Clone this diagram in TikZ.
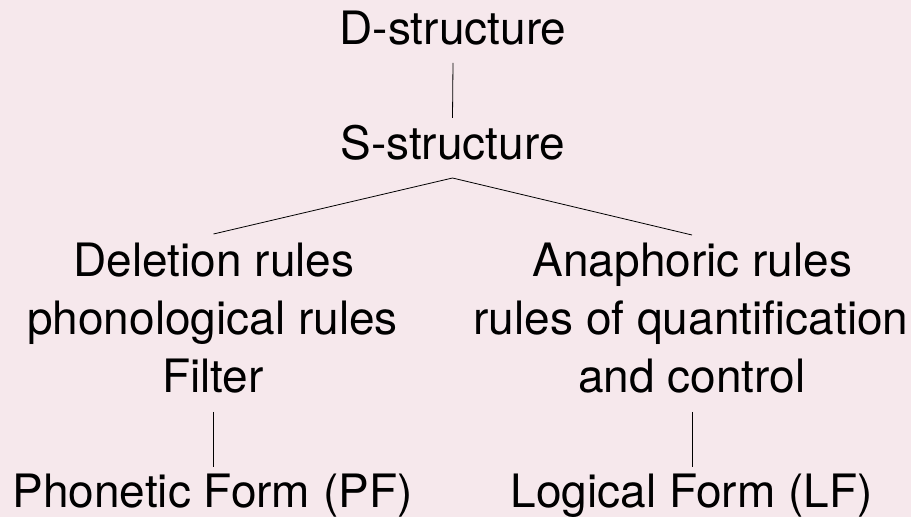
\documentclass[tikz,border=0pt]{standalone}
\usepackage{fontspec}
\setmainfont{TeX Gyre Heros}
\definecolor{paper}{RGB}{246,232,236}
\begin{document}
\begin{tikzpicture}[x=1pt,y=1pt,
  lbl/.style={anchor=base,inner sep=0pt,font=\fontsize{46}{55}\selectfont},
  link/.style={draw=black,line width=0.8pt}]
  % page
  \fill[paper] (0,0) rectangle (911,517);
  \useasboundingbox (0,0) rectangle (911,517);

  % levels of representation
  \node[lbl] (d) at (453,472) {D-structure};
  \node[lbl] (s) at (452.5,357) {S-structure};

  % left branch
  \node[lbl] (del)  at (214,240) {Deletion rules};
  \node[lbl] (phon) at (212.5,182) {phonological rules};
  \node[lbl] (filt) at (213,124) {Filter};
  \node[lbl] (pf)   at (212.5,9) {Phonetic Form (PF)};

  % right branch
  \node[lbl] (ana)  at (692.5,240) {Anaphoric rules};
  \node[lbl] (quan) at (691,182) {rules of quantification};
  \node[lbl] (ctrl) at (691.7,124) {and control};
  \node[lbl] (lf)   at (691.5,9) {Logical Form (LF)};

  % connectors
  \draw[link] ([yshift=-18pt]d.base) -- ([yshift=42pt]s.base);
  \draw[link] ([xshift=-0.5pt,yshift=43pt]del.base) -- ([yshift=-18pt]s.base)
              -- ([xshift=-0.5pt,yshift=42pt]ana.base);
  \draw[link] ([yshift=-19pt]filt.base) -- ([xshift=0.5pt,yshift=41pt]pf.base);
  \draw[link] ([xshift=0.3pt,yshift=-19pt]ctrl.base) -- ([xshift=0.5pt,yshift=41pt]lf.base);
\end{tikzpicture}
\end{document}
